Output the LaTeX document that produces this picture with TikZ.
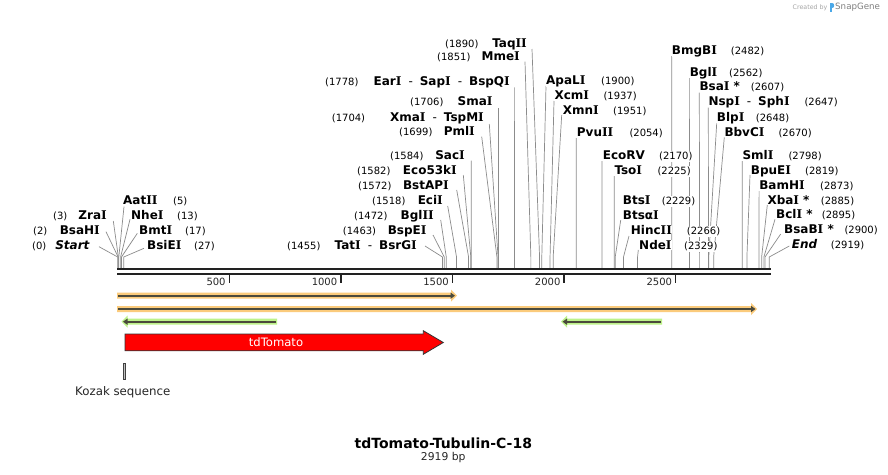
\documentclass[tikz,border=0pt]{standalone}
\usepackage{fontspec}
\setmainfont{DejaVu Sans}
\newfontfamily\serfam{DejaVu Serif}
\usetikzlibrary{arrows.meta}
\pgfdeclarelayer{bglayer}
\pgfsetlayers{bglayer,main}
\definecolor{leadc}{HTML}{8C8C8C}
\definecolor{rulerc}{HTML}{222222}
\definecolor{orband}{HTML}{FBCB7C}
\definecolor{grband}{HTML}{BDF28A}
\definecolor{featline}{HTML}{4B4A3C}
\definecolor{redf}{HTML}{FF0000}
\definecolor{snapblue}{HTML}{4AA8E8}
\newcommand\cI{{\serfam I}}
\newcommand\nsep{\hspace{7pt}{\mdseries-}\hspace{7pt}}
% left-of-site label: id, name, name end x, y centre, number, number start x, bp, line start x, line start y
\newcommand\enzL[9]{%
  \node[lab, anchor=base east] (#1) at (#3,{#4+4.2}) {#2};
  \node[num, anchor=base west] (#1n) at (#6,{#4+4.2}) {#5};
  \coordinate (#1k) at ({117.7+0.2232*#7},257);
  \coordinate (#1c) at ({117.7+0.2232*#7},268.2);
  \begin{pgfonlayer}{bglayer}
  \draw[leader] ([shift={({#8-#3},{#9-#4-4.2})}]#1.base east) -- (#1k) -- (#1c);
  \end{pgfonlayer}
}
% right-of-site label
\newcommand\enzR[9]{%
  \node[lab, anchor=base west] (#1) at (#3,{#4+4.2}) {#2};
  \node[num, anchor=base west] (#1n) at (#6,{#4+4.2}) {#5};
  \coordinate (#1k) at ({117.7+0.2232*#7},257);
  \coordinate (#1c) at ({117.7+0.2232*#7},268.2);
  \begin{pgfonlayer}{bglayer}
  \draw[leader] ([shift={({#8-#3},{#9-#4-4.2})}]#1.base west) -- (#1k) -- (#1c);
  \end{pgfonlayer}
}
\begin{document}
\begin{tikzpicture}[x=1pt,y=-1pt,
  lab/.style={inner sep=0pt, fill=white, font=\fontsize{12}{12}\selectfont\bfseries},
  num/.style={inner xsep=0pt, inner ysep=1pt, fill=white, font=\fontsize{10}{10}\selectfont},
  leader/.style={draw=leadc, line width=0.7pt},
  rulerline/.style={draw=rulerc, line width=2pt},
  tickmark/.style={draw=rulerc, line width=1.5pt},
  ticklab/.style={inner sep=0pt, font=\fontsize{10}{10}\selectfont, text=black!85},
  featarrow/.style={draw=featline, line width=2pt},
]
\begin{pgfonlayer}{bglayer}
\fill[white] (0,0) rectangle (888,474);
\end{pgfonlayer}
\useasboundingbox (0,0) rectangle (888,474);

% ruler
\coordinate (r0a) at (117.3,269.3);
\coordinate (r1a) at (770.5,269.3);
\coordinate (r0b) at (117.3,274.3);
\coordinate (r1b) at (770.5,274.3);
\draw[rulerline] (r0a) -- (r1a);
\draw[rulerline] (r0b) -- (r1b);
\foreach \b in {500,1000,1500,2000,2500}{
  \coordinate (tk\b) at ({117.7+0.2232*\b},275.3);
  \draw[tickmark] (tk\b) -- ++(0,8);
  \node[ticklab, anchor=east] (tl\b) at ({117.7+0.2232*\b-3.5},282.3) {\b};
}

% enzymes, left of their sites
\enzL{start}{\textit{Start}}{90}{245}{(0)}{32}{0}{99}{246.7}
\enzL{bsahi}{BsaH\cI}{100}{230}{(2)}{33}{2}{106}{231.7}
\enzL{zrai}{Zra\cI}{107}{215}{(3)}{53}{3}{113.3}{221}
\enzL{tati}{Tat\cI\nsep BsrG\cI}{417}{245.3}{(1455)}{287}{1455}{425}{246}
\enzL{bspei}{BspE\cI}{426.7}{230}{(1463)}{342.7}{1463}{433}{235}
\enzL{bglii}{Bgl\cI\cI}{434}{215}{(1472)}{354}{1472}{440.7}{220}
\enzL{ecii}{Eci\cI}{443}{200}{(1518)}{372}{1518}{447.7}{206}
\enzL{bstapi}{BstAP\cI}{449}{185}{(1572)}{358}{1572}{456.7}{190}
\enzL{ecoki}{Eco53k\cI}{457}{170.7}{(1582)}{357}{1582}{463.3}{175}
\enzL{saci}{Sac\cI}{465}{155}{(1584)}{390}{1584}{471.3}{160.7}
\enzL{pmli}{Pml\cI}{475}{131.7}{(1699)}{399}{1699}{481.7}{136.7}
\enzL{xmai}{Xma\cI\nsep TspM\cI}{484}{117}{(1704)}{331.7}{1704}{489.3}{124}
\enzL{smai}{Sma\cI}{492.7}{101.7}{(1706)}{410}{1706}{498.5}{108}
\enzL{eari}{Ear\cI\nsep Sap\cI\nsep BspQ\cI}{510}{81}{(1778)}{325}{1778}{514.6}{87.3}
\enzL{mmei}{Mme\cI}{520}{56}{(1851)}{437}{1851}{525}{61.7}
\enzL{taqii}{Taq\cI\cI}{527}{43.3}{(1890)}{445}{1890}{532}{49}

% enzymes, right of their sites
\enzR{aatii}{Aat\cI\cI}{123}{200.7}{(5)}{173}{5}{124}{206.7}
\enzR{nhei}{Nhe\cI}{131}{215}{(13)}{177}{13}{130}{219.3}
\enzR{bmti}{Bmt\cI}{139}{230}{(17)}{185}{17}{137.3}{233.3}
\enzR{bsiei}{BsiE\cI}{147}{245}{(27)}{194}{27}{144}{248.3}
\enzR{apali}{ApaL\cI}{546}{80.7}{(1900)}{601}{1900}{546}{86}
\enzR{xcmi}{Xcm\cI}{554.3}{95.7}{(1937)}{603.3}{1937}{554}{101}
\enzR{xmni}{Xmn\cI}{562.7}{110.7}{(1951)}{613}{1951}{561.7}{115}
\enzR{pvuii}{Pvu\cI\cI}{576.7}{132.3}{(2054)}{629.3}{2054}{576.2}{138}
\enzR{ecorv}{EcoRV}{602.7}{155}{(2170)}{659}{2170}{602}{161}
\enzR{tsoi}{Tso\cI}{614.3}{170.7}{(2225)}{657.3}{2225}{614.3}{176}
\node[lab, anchor=base west] (btsi) at (622.7,204.2) {Bts\cI};
\node[num, anchor=base west] (btsin) at (661.7,204.2) {(2229)};
\node[lab, anchor=base west] (btsai) at (622.7,219.2) {Btsα\cI};
\coordinate (btsaik) at ({117.7+0.2232*2229},257);
\coordinate (btsaic) at ({117.7+0.2232*2229},268.2);
\begin{pgfonlayer}{bglayer}
\draw[leader] ([shift={(-2,1)}]btsai.base west) -- (btsaik) -- (btsaic);
\end{pgfonlayer}
\enzR{hincii}{Hinc\cI\cI}{630.7}{230}{(2266)}{686.7}{2266}{629}{236}
\enzR{ndei}{Nde\cI}{639}{245.3}{(2329)}{684}{2329}{638.3}{250}
\enzR{bmgbi}{BmgB\cI}{671.7}{50}{(2482)}{730.7}{2482}{671.7}{56}
\enzR{bgli}{Bgl\cI}{689.6}{72.5}{(2562)}{729}{2562}{689.6}{78}
\enzR{bsai}{Bsa\cI\ *}{699.3}{86.7}{(2607)}{750.7}{2607}{699.3}{92.7}
\enzR{nspi}{Nsp\cI\nsep Sph\cI}{708.3}{101.7}{(2647)}{804.3}{2647}{708.3}{107.7}
\enzR{blpi}{Blp\cI}{716.7}{117.3}{(2648)}{755.7}{2648}{716.7}{123.3}
\enzR{bbvci}{BbvC\cI}{724.3}{132.3}{(2670)}{778.3}{2670}{724.3}{137.3}
\enzR{smli}{Sml\cI}{742.3}{155.7}{(2798)}{788.3}{2798}{742.3}{161}
\enzR{bpuei}{BpuE\cI}{750.7}{170}{(2819)}{805}{2819}{750}{175}
\enzR{bamhi}{BamH\cI}{759.1}{185}{(2873)}{820}{2873}{759.1}{191}
\enzR{xbai}{Xba\cI\ *}{767.3}{200}{(2885)}{820.7}{2885}{767.3}{205}
\enzR{bcli}{Bcl\cI\ *}{776}{214.3}{(2895)}{821.7}{2895}{775}{219.3}
\enzR{bsabi}{BsaB\cI\ *}{784}{229.3}{(2900)}{844.3}{2900}{780.7}{234}
\enzR{endl}{\textit{End}}{791.7}{244.3}{(2919)}{830.7}{2919}{789.3}{246}

% orange feature 1
\fill[orband] (117,292.7) -- (451,292.7) -- (451,289.7) -- (457,295.7) -- (451,301.7) -- (451,298.7) -- (117,298.7) -- cycle;
\coordinate (o1a) at (118,295.7);
\coordinate (o1b) at (455,295.7);
\draw[featarrow, -{Triangle[length=4.5pt,width=6pt]}] (o1a) -- (o1b);
% orange feature 2
\fill[orband] (117,306) -- (751,306) -- (751,303) -- (757,309) -- (751,315) -- (751,312) -- (117,312) -- cycle;
\coordinate (o2a) at (118,309);
\coordinate (o2b) at (755.5,309);
\draw[featarrow, -{Triangle[length=4.5pt,width=6pt]}] (o2a) -- (o2b);
% green feature 1
\fill[grband] (277,318.7) -- (127.5,318.7) -- (127.5,315.7) -- (121.5,321.7) -- (127.5,327.7) -- (127.5,324.7) -- (277,324.7) -- cycle;
\coordinate (g1a) at (276,321.7);
\coordinate (g1b) at (123,321.7);
\draw[featarrow, -{Triangle[length=4.5pt,width=6pt]}] (g1a) -- (g1b);
% green feature 2
\fill[grband] (662,318.7) -- (567,318.7) -- (567,315.7) -- (561,321.7) -- (567,327.7) -- (567,324.7) -- (662,324.7) -- cycle;
\coordinate (g2a) at (661,321.7);
\coordinate (g2b) at (562.5,321.7);
\draw[featarrow, -{Triangle[length=4.5pt,width=6pt]}] (g2a) -- (g2b);

% tdTomato
\draw[fill=redf, draw=black!80, line width=0.8pt] (125,334) -- (423.3,334) -- (423.3,330.7) -- (443.3,342.5) -- (423.3,354.3) -- (423.3,350.8) -- (125,350.8) -- cycle;
\node[inner sep=0pt, text=white, font=\fontsize{11.6}{12}\selectfont] (tdt) at (276,342.3) {tdTomato};

% Kozak
\draw[fill=black!25, draw=black!75, line width=0.8pt] (123.3,363.3) rectangle (125.7,379);
\node[inner sep=0pt, anchor=west, font=\fontsize{11.8}{12}\selectfont, text=black!85] (koz) at (75,392.5) {Kozak sequence};

% title
\node[inner sep=0pt, font=\fontsize{14}{14}\selectfont\bfseries] (title) at (443.3,443) {tdTomato-Tubulin-C-18};
\node[inner sep=0pt, font=\fontsize{10.8}{11}\selectfont, text=black!85] (bp) at (443.3,458) {2919 bp};

% created by
\node[inner sep=0pt, anchor=west, font=\fontsize{6.3}{7}\selectfont, text=black!35] (cby) at (792.5,7.3) {Created by};
\fill[snapblue] (829.5,3) rectangle (831.5,12);
\fill[snapblue] (831.5,3) .. controls (834.5,3) and (834.5,8) .. (831.5,8) -- cycle;
\node[inner sep=0pt, anchor=west, font=\fontsize{8.7}{9}\selectfont, text=black!50] (sg) at (835,7.3) {SnapGene};
\end{tikzpicture}
\end{document}
